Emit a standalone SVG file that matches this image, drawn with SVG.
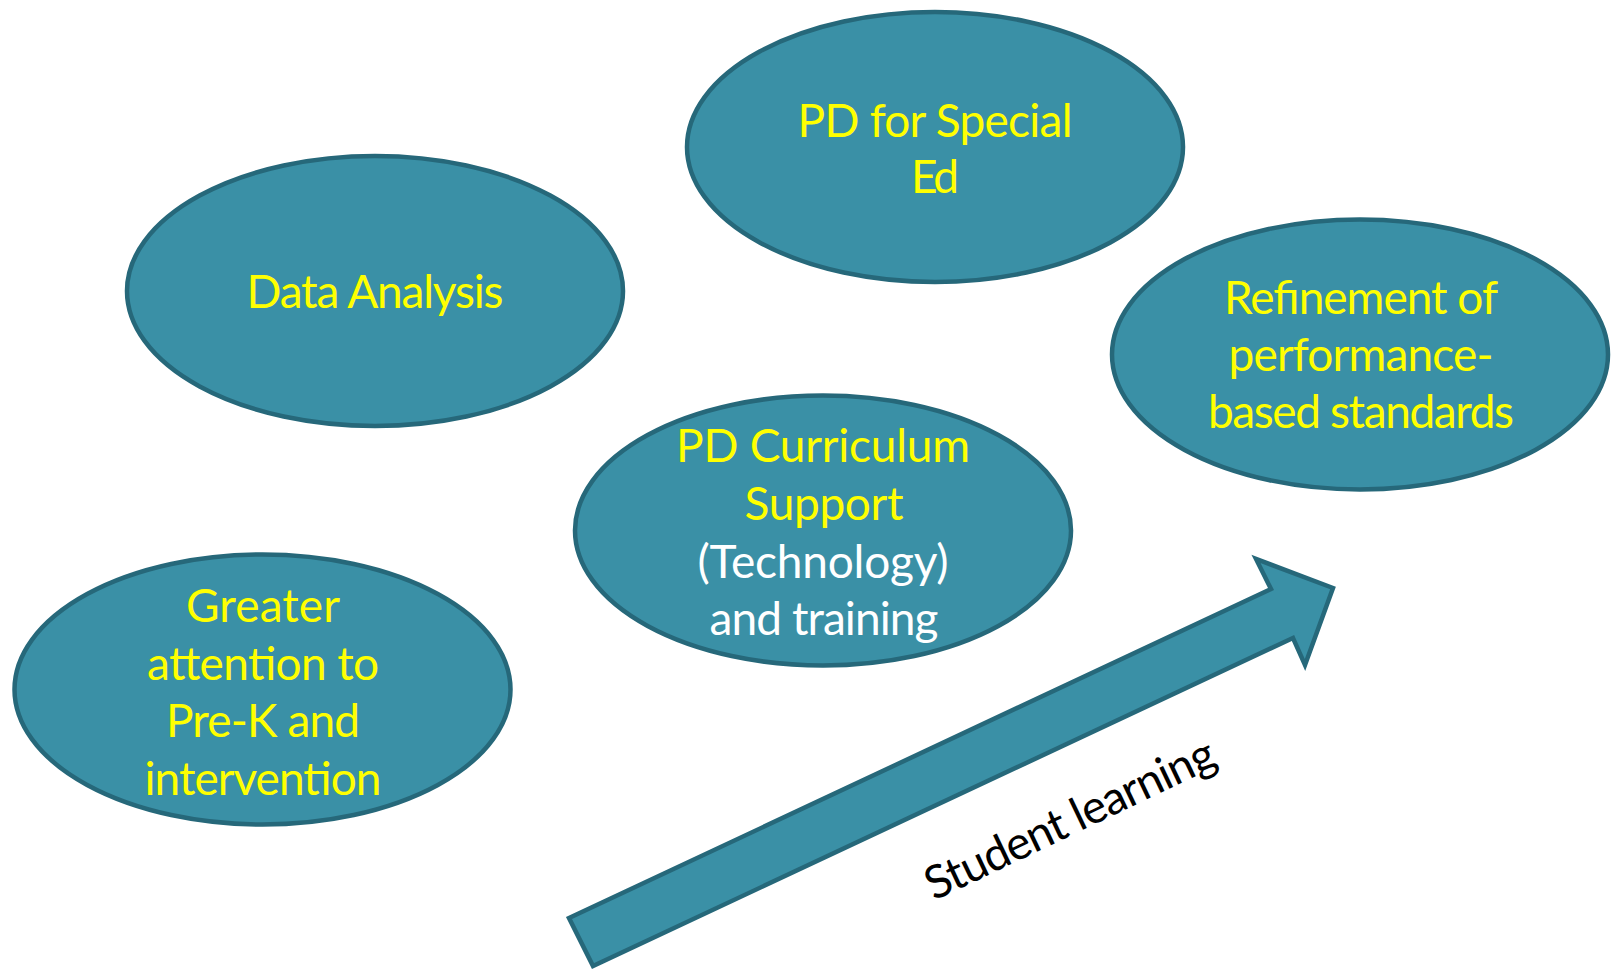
<svg xmlns="http://www.w3.org/2000/svg" width="1618" height="969" viewBox="0 0 1618 969">
  <style>
    .shape { fill: #3A90A6; stroke: #26687A; stroke-width: 4.5; stroke-linejoin: miter; }
    .lbl { font-family: Lato, "Open Sans", "Liberation Sans", sans-serif; font-size: 46px; text-anchor: middle; }
    .y { fill: #FFFF00; }
    .w { fill: #FFFFFF; }
    .arrowtext { font-family: Lato, "Open Sans", "Liberation Sans", sans-serif; font-size: 46px; fill: #000000; }
  </style>
  <rect x="0" y="0" width="1618" height="969" fill="#FFFFFF"/>

  <g id="student-learning-arrow">
    <path class="shape" d="M 569 918 L 1271 589 L 1256 559 L 1333 588 L 1305 665 L 1293 638 L 593 966 Z"/>
    <text class="arrowtext" x="934" y="901" transform="rotate(-25.5 934 901)" textLength="316" lengthAdjust="spacing">Student learning</text>
  </g>

  <g id="node-pd-special-ed">
    <ellipse class="shape" cx="935" cy="147" rx="248" ry="135"/>
    <text class="lbl y" x="935" y="137" textLength="275" lengthAdjust="spacing">PD for Special</text>
    <text class="lbl y" x="935" y="193" textLength="48" lengthAdjust="spacing">Ed</text>
  </g>

  <g id="node-data-analysis">
    <ellipse class="shape" cx="375" cy="291" rx="248" ry="135"/>
    <text class="lbl y" x="375" y="308" textLength="257" lengthAdjust="spacing">Data Analysis</text>
  </g>

  <g id="node-refinement">
    <ellipse class="shape" cx="1360" cy="354.5" rx="248" ry="135"/>
    <text class="lbl y" x="1361" y="314" textLength="274" lengthAdjust="spacing">Refinement of</text>
    <text class="lbl y" x="1361" y="371" textLength="265" lengthAdjust="spacing">performance-</text>
    <text class="lbl y" x="1361" y="428" textLength="306" lengthAdjust="spacing">based standards</text>
  </g>

  <g id="node-pd-curriculum">
    <ellipse class="shape" cx="823" cy="530.5" rx="248" ry="135"/>
    <text class="lbl y" x="823" y="462" textLength="294" lengthAdjust="spacing">PD Curriculum</text>
    <text class="lbl y" x="824" y="520" textLength="159" lengthAdjust="spacing">Support</text>
    <text class="lbl w" x="823" y="578" textLength="251" lengthAdjust="spacing">(Technology)</text>
    <text class="lbl w" x="824" y="635" textLength="229" lengthAdjust="spacing">and training</text>
  </g>

  <g id="node-greater-attention">
    <ellipse class="shape" cx="262.5" cy="689.5" rx="248" ry="135"/>
    <text class="lbl y" x="263" y="622" textLength="154" lengthAdjust="spacing">Greater</text>
    <text class="lbl y" x="263" y="680" textLength="232" lengthAdjust="spacing">attention to</text>
    <text class="lbl y" x="263" y="737" textLength="194" lengthAdjust="spacing">Pre-K and</text>
    <text class="lbl y" x="263" y="795" textLength="237" lengthAdjust="spacing">intervention</text>
  </g>
</svg>
